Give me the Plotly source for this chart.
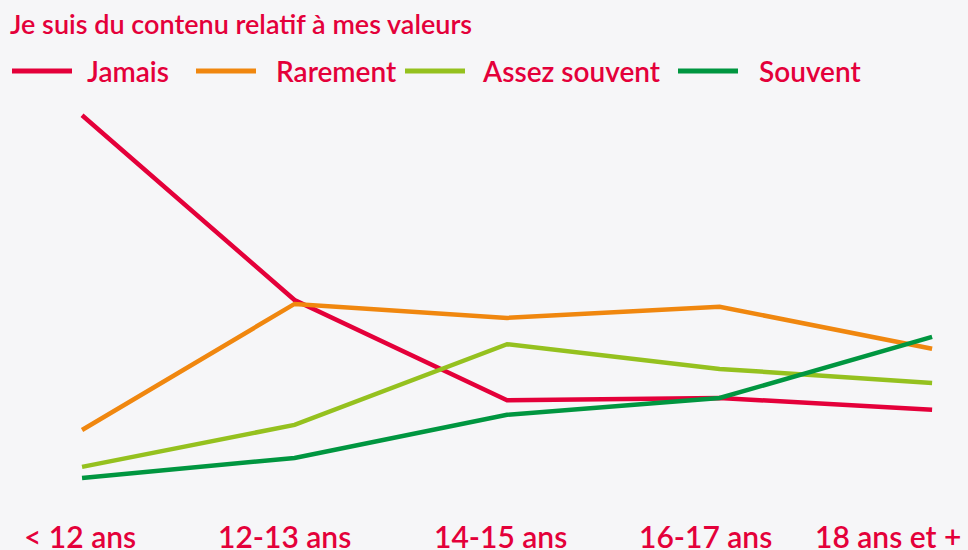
import plotly.graph_objects as go

# Age groups and share of answers (%) per frequency
categories = ["< 12 ans", "12-13 ans", "14-15 ans", "16-17 ans", "18 ans et +"]
jamais = [70.5, 37.5, 19.6, 20.0, 17.9]
rarement = [14.3, 36.8, 34.3, 36.3, 28.8]
assez_souvent = [7.7, 15.2, 29.6, 25.2, 22.7]
souvent = [5.7, 9.3, 17.0, 20.0, 30.9]

series = [
    ("Jamais", jamais, "#e4003a"),
    ("Rarement", rarement, "#f0870f"),
    ("Assez souvent", assez_souvent, "#95c11f"),
    ("Souvent", souvent, "#009640"),
]

RED = "#e4003a"
FONT = "Lato, sans-serif"
W, H = 968, 550
MT, MB = 100, 50
x_idx = list(range(len(categories)))

fig = go.Figure()
for name, vals, color in series:
    fig.add_trace(go.Scatter(
        x=x_idx, y=vals, name=name, mode="lines",
        line=dict(color=color, width=4.5),
        hoverinfo="name+y", showlegend=False,
    ))


def paper_y(py):
    # pixel row -> paper coordinate for the plotting area
    return (H - MB - py) / (H - MT - MB)


# legend row: coloured swatch followed by its label
legend_pos = [(12, 85), (196, 274), (405, 480), (678, 757)]
ly = paper_y(71)
for (name, _, color), (x0, xt) in zip(series, legend_pos):
    fig.add_shape(type="line", xref="paper", yref="paper",
                  x0=x0 / W, x1=(x0 + 60) / W, y0=ly, y1=ly,
                  line=dict(color=color, width=5))
    fig.add_annotation(x=xt / W, y=ly, xref="paper", yref="paper",
                       xanchor="left", yanchor="middle", text=name,
                       showarrow=False,
                       font=dict(family=FONT, size=28, color=RED, weight=600))

# category labels under the chart
label_shift = [-2, -10, -7, -14, -44]
for i, (cat, dx) in enumerate(zip(categories, label_shift)):
    fig.add_annotation(
        x=i, y=0, xref="x", yref="paper", yanchor="top", yshift=-16,
        xshift=dx, text=cat, showarrow=False,
        font=dict(family=FONT, size=30, color=RED, weight=600),
    )

fig.update_layout(
    width=W, height=H,
    margin=dict(l=0, r=0, t=MT, b=MB),
    paper_bgcolor="#f6f6f8",
    plot_bgcolor="rgba(0,0,0,0)",
    showlegend=False,
    title=dict(text="Je suis du contenu relatif à mes valeurs",
               x=0.0, xanchor="left", xref="paper", y=0.955, yanchor="middle",
               pad=dict(l=10),
               font=dict(family=FONT, size=27, color=RED, weight=600)),
    xaxis=dict(range=[-0.386, 4.169], showgrid=False, zeroline=False,
               showticklabels=False, showline=False),
    yaxis=dict(range=[1.79, 73.21], showgrid=False, zeroline=False,
               showticklabels=False, showline=False),
)

fig.write_html("out.html")
